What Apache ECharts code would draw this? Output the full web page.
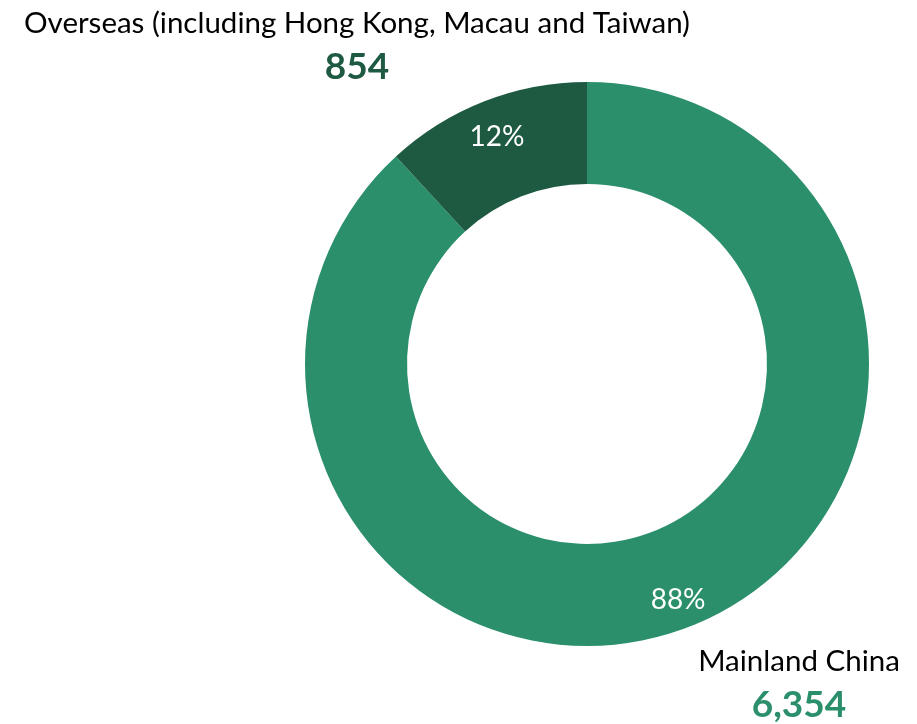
<!DOCTYPE html>
<html>
<head>
<meta charset="utf-8">
<script src="https://cdn.jsdelivr.net/npm/echarts@6/dist/echarts.min.js"></script>
<style>
  html, body { margin: 0; padding: 0; background: #ffffff; }
  #chart { width: 917px; height: 724px; }
</style>
</head>
<body>
<div id="chart"></div>
<script>
// Customer base split by region
const categories = ['Mainland China', 'Overseas (including Hong Kong, Macau and Taiwan)'];
const values = [6354, 854];
const sliceColors = ['#2a8f6a', '#1e5a41'];

const FONT = 'Lato, "Open Sans", sans-serif';
const chart = echarts.init(document.getElementById('chart'), null, { renderer: 'canvas' });

const total = values.reduce((a, b) => a + b, 0);
const fmt = v => v.toLocaleString('en-US');

// Positions of the outside name/value captions, per slice
const captionPos = [
  { x: 799, nameY: 661, valueY: 705 },
  { x: 357, nameY: 23, valueY: 67 }
];

const graphics = [];
categories.forEach((name, i) => {
  graphics.push({
    type: 'text',
    x: captionPos[i].x, y: captionPos[i].nameY,
    style: { text: name, fill: '#000000', font: '29.5px ' + FONT, textAlign: 'center', textVerticalAlign: 'middle' }
  });
  graphics.push({
    type: 'text',
    x: captionPos[i].x, y: captionPos[i].valueY,
    style: { text: fmt(values[i]), fill: sliceColors[i], font: 'bold 37px ' + FONT, textAlign: 'center', textVerticalAlign: 'middle' }
  });
});

chart.setOption({
  animation: false,
  backgroundColor: '#ffffff',
  graphic: graphics,
  series: [{
    type: 'pie',
    center: [587, 364],
    radius: [180, 282],
    startAngle: 90,
    clockwise: true,
    silent: true,
    itemStyle: { borderWidth: 0 },
    label: {
      show: true,
      position: 'inside',
      color: '#ffffff',
      fontFamily: FONT,
      fontSize: 28,
      formatter: p => Math.round(p.value / total * 100) + '%'
    },
    labelLayout: p => (p.dataIndex === 0 ? { dx: 6, dy: 18 } : { dx: -5, dy: -9 }),
    data: categories.map((name, i) => ({ name, value: values[i], itemStyle: { color: sliceColors[i] } }))
  }]
});
</script>
</body>
</html>
